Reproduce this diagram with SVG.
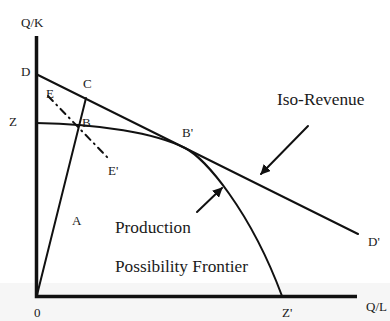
<svg xmlns="http://www.w3.org/2000/svg" width="390" height="321" viewBox="0 0 390 321">
<defs>
<style>
text{font-family:'Liberation Serif','DejaVu Serif',serif;fill:#1a1a1a}
.s{font-size:13px}
.b{font-size:17.3px}
.ln{fill:none;stroke:#111;stroke-width:2;stroke-linecap:round}
.ax{fill:none;stroke:#111;stroke-width:3.5}
</style>
<marker id="ah" viewBox="0 0 10 10" refX="9" refY="5" markerWidth="5" markerHeight="5" orient="auto" markerUnits="strokeWidth">
<path d="M0,0 L10,5 L0,10 z" fill="#111"/>
</marker>
</defs>
<rect width="390" height="321" fill="#fff"/>
<rect x="0" y="283" width="390" height="38" fill="#f6f6f6"/>
<g id="axes">
<path class="ax" d="M36.5,36 V296.5 H357"/>
<text class="s" x="21" y="27">Q/K</text>
<text class="s" x="366" y="311">Q/L</text>
<text class="s" x="34" y="317">0</text>
<text class="s" x="282" y="317">Z'</text>
</g>
<g id="connectors">
<path class="ln" d="M36,74 L358,234"/>
<path class="ln" d="M36,123 C100,124 155,133 185,148 C205,158 250,210 282,296"/>
<path class="ln" d="M37,295 L86,98"/>
<path class="ln" d="M48,96 L108,158" stroke-dasharray="7,5,1,5"/>
<path class="ln" d="M308,126 L261,174" marker-end="url(#ah)"/>
<path class="ln" d="M197,212 L222,188" marker-end="url(#ah)"/>
</g>
<g id="labels">
<text class="s" x="21" y="76">D</text>
<text class="s" x="9" y="126">Z</text>
<text class="s" x="83" y="88">C</text>
<text class="s" x="46" y="98">E</text>
<text class="s" x="82" y="127">B</text>
<text class="s" x="182" y="137">B'</text>
<text class="s" x="108" y="175">E'</text>
<text class="s" x="72" y="225">A</text>
<text class="s" x="368" y="246">D'</text>
</g>
<g id="iso-revenue"><text class="b" x="277" y="105">Iso-Revenue</text></g>
<g id="ppf">
<text class="b" x="115" y="233">Production</text>
<text class="b" x="115" y="272">Possibility Frontier</text>
</g>
</svg>
